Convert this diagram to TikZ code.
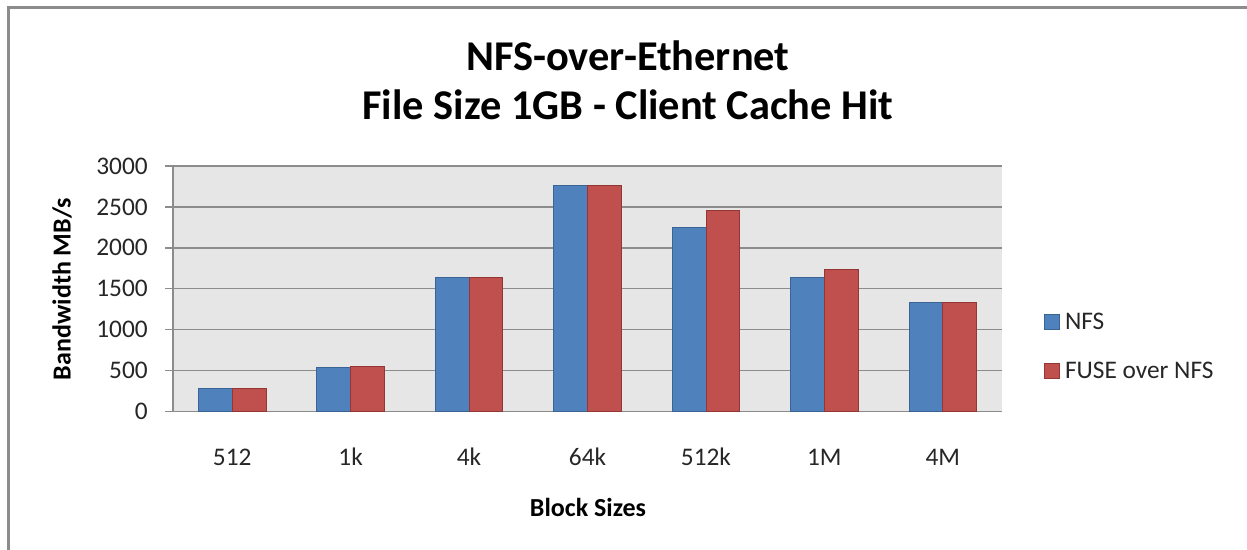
\documentclass[tikz,border=0pt]{standalone}
\usepackage{fontspec}
\setmainfont{Carlito}
\usepackage{tikz}
\usetikzlibrary{positioning}

\definecolor{nfsblue}{HTML}{4F81BD}
\definecolor{nfsblueline}{HTML}{3A6496}
\definecolor{fusered}{HTML}{C0504D}
\definecolor{fuseredline}{HTML}{943634}
\definecolor{plotgrey}{HTML}{E6E6E6}
\definecolor{gridgrey}{HTML}{8C8C8C}

\begin{document}
\begin{tikzpicture}[x=0.75pt,y=-0.75pt,
  nfsbar/.style={fill=nfsblue,draw=nfsblueline,line width=0.6pt},
  fusebar/.style={fill=fusered,draw=fuseredline,line width=0.6pt},
  ticklabel/.style={font=\fontsize{19}{22}\selectfont,text=black!85,inner sep=0pt},
  axistitle/.style={font=\fontsize{19.5}{23}\selectfont\bfseries,inner sep=0pt},
  charttitle/.style={font=\fontsize{31.8}{38}\selectfont\bfseries},
  gridline/.style={draw=gridgrey,line width=1pt}]
\useasboundingbox (0,0) rectangle (1247,550);
% chart frame, cut off by the page on the right and at the bottom
\draw[gridgrey,line width=2pt] (8.5,570) -- (8.5,7.5) -- (1270,7.5);

% plot area with grid and y ticks
\fill[plotgrey] (173,166) rectangle (1002,411.5);
\foreach \v in {0,500,...,3000}
{
    \pgfmathsetmacro\yv{411.5-\v*0.081833}
    \draw[gridline] (165,\yv) -- (1002,\yv);
    \node[ticklabel,anchor=east] (tick\v) at (148,\yv) {\v};
}
\draw[gridline] (173,166) -- (173,411.5);

% bars: label / NFS / FUSE over NFS
\foreach \lab/\a/\b [count=\i] in {512/285/285, 1k/537/549, 4k/1643/1643,
    64k/2765/2765, 512k/2252/2460, 1M/1643/1740, 4M/1329/1329}
{
    \pgfmathsetmacro\xc{173+118.43*(\i-0.5)}
    \draw[nfsbar] ({\xc-33.8},411.5) rectangle (\xc,{411.5-\a*0.081833});
    \draw[fusebar] (\xc,411.5) rectangle ({\xc+33.8},{411.5-\b*0.081833});
    \node[ticklabel] (cat\i) at (\xc,457) {\lab};
}

% titles
\node[charttitle] (title1) at (628,56) {NFS-over-Ethernet};
\node[charttitle] (title2) at (628,105) {File Size 1GB - Client Cache Hit};
\node[axistitle] (xtitle) at (588,507) {Block Sizes};
\node[axistitle,rotate=90] (ytitle) at (62,289) {Bandwidth MB/s};

% legend
\node[nfsbar,minimum size=11.25pt,inner sep=0pt] (keyNFS) at (1051.5,321.5) {};
\node[ticklabel,anchor=west,right=4pt of keyNFS] (legNFS) {NFS};
\node[fusebar,minimum size=11.25pt,inner sep=0pt] (keyFUSE) at (1051.5,370.5) {};
\node[ticklabel,anchor=west,right=4pt of keyFUSE] (legFUSE) {FUSE over NFS};
\end{tikzpicture}
\end{document}
